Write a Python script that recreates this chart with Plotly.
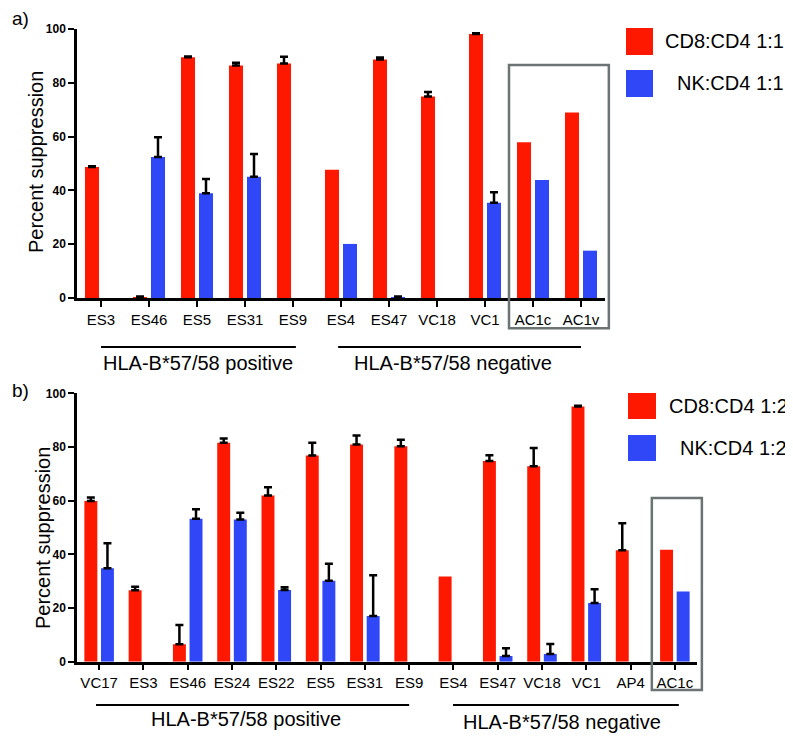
import numpy as np
import plotly.graph_objects as go

# ---------------- data ----------------
cats_a = ["ES3", "ES46", "ES5", "ES31", "ES9", "ES4", "ES47", "VC18", "VC1", "AC1c", "AC1v"]
cd8_a = [48.7, 0.3, 89.5, 86.4, 87.2, 47.7, 88.7, 74.9, 98.1, 57.9, 69.0]
cd8_a_err = [0.3, 0.3, 0.3, 1.1, 2.5, None, 0.7, 1.7, 0.3, None, None]
nk_a = [None, 52.4, 38.9, 45.1, None, 20.1, 0.3, None, 35.4, 43.9, 17.6]
nk_a_err = [None, 7.4, 5.3, 8.4, None, None, 0.3, None, 3.9, None, None]

cats_b = ["VC17", "ES3", "ES46", "ES24", "ES22", "ES5", "ES31", "ES9", "ES4",
          "ES47", "VC18", "VC1", "AP4", "AC1c"]
cd8_b = [59.9, 26.6, 6.5, 81.6, 61.9, 76.8, 80.9, 80.3, 31.7, 74.8, 72.8, 95.1, 41.5, 41.7]
cd8_b_err = [1.3, 1.3, 7.2, 1.6, 3.1, 4.8, 3.4, 2.4, None, 2.1, 6.8, 0.3, 10.1, None]
nk_b = [34.8, None, 53.3, 53.0, 26.7, 30.2, 17.0, None, None, 2.1, 2.9, 21.9, None, 26.2]
nk_b_err = [9.3, None, 3.5, 2.5, 1.0, 6.3, 15.2, None, None, 2.9, 3.7, 5.1, None, None]

legend_a = ["CD8:CD4 1:1", "NK:CD4 1:1"]
legend_b = ["CD8:CD4 1:2", "NK:CD4 1:2"]
group_labels = ["HLA-B*57/58 positive", "HLA-B*57/58 negative"]
y_title = "Percent suppression"
yticks = [0, 20, 40, 60, 80, 100]

# ---------------- style ----------------
RED = "#ff1800"
BLUE = "#2f47f6"
GRAY = "#6b7473"
FONT = "Liberation Sans, Arial, sans-serif"
OFF = 8                      # page body margin
FW, FH = 793 - OFF, 736 - OFF


def px(p):
    return (p - OFF) / FW


def py(p):
    return (FH - (p - OFF)) / FH


def err(vals):
    arr = np.array([np.nan if v is None else v for v in vals], dtype=float)
    minus = np.where(np.isnan(arr), np.nan, 0.0)
    return dict(type="data", symmetric=False, array=arr, arrayminus=minus,
                color="black", thickness=2.5, width=4)


fig = go.Figure()
fig.add_trace(go.Bar(x=cats_a, y=cd8_a, name=legend_a[0], marker_color=RED,
                     error_y=err(cd8_a_err), xaxis="x", yaxis="y", showlegend=False))
fig.add_trace(go.Bar(x=cats_a, y=nk_a, name=legend_a[1], marker_color=BLUE,
                     error_y=err(nk_a_err), xaxis="x", yaxis="y", showlegend=False))
fig.add_trace(go.Bar(x=cats_b, y=cd8_b, name=legend_b[0], marker_color=RED,
                     error_y=err(cd8_b_err), xaxis="x2", yaxis="y2", showlegend=False))
fig.add_trace(go.Bar(x=cats_b, y=nk_b, name=legend_b[1], marker_color=BLUE,
                     error_y=err(nk_b_err), xaxis="x2", yaxis="y2", showlegend=False))

axis_common = dict(showline=True, linewidth=2.5, linecolor="black", ticks="outside",
                   ticklen=6, tickwidth=2, tickcolor="black", showgrid=False,
                   zeroline=False, fixedrange=True, automargin=False)

xdom_a = [px(77), px(605)]
ydom_a = [py(298), py(29)]
xdom_b = [px(77), px(697)]
ydom_b = [py(661.7), py(393.3)]

ytick_font = dict(family=FONT, size=12, color="black", weight="bold")
xtick_font = dict(family=FONT, size=15, color="black")

fig.update_layout(
    template="none",
    width=FW, height=FH, margin=dict(l=0, r=0, t=0, b=0, autoexpand=False),
    paper_bgcolor="white", plot_bgcolor="white",
    barmode="group", bargap=0.25, bargroupgap=0.22,
    font=dict(family=FONT, color="black"),
    xaxis=dict(domain=xdom_a, anchor="y", type="category", range=[-0.5, len(cats_a) - 0.5],
               tickfont=xtick_font, **axis_common),
    yaxis=dict(domain=ydom_a, anchor="x", range=[0, 100], tickvals=yticks,
               tickfont=ytick_font, **axis_common),
    xaxis2=dict(domain=xdom_b, anchor="y2", type="category", range=[-0.5, len(cats_b) - 0.5],
                tickfont=xtick_font, **axis_common),
    yaxis2=dict(domain=ydom_b, anchor="x2", range=[0, 100], tickvals=yticks,
                tickfont=ytick_font, **axis_common),
)


def cx(idx, n):
    # category index -> x-domain fraction
    return (idx + 0.5) / n


shapes = []
annotations = []
na, nb = len(cats_a), len(cats_b)

# ---- y-axis titles ----
for xc, yc in [(36, 162), (43, 538)]:
    annotations.append(dict(xref="paper", yref="paper", x=px(xc), y=py(yc), text=y_title,
                            textangle=-90, showarrow=False, xanchor="center",
                            yanchor="middle",
                            font=dict(family=FONT, size=20, color="black")))

# ---- gray boxes around controls ----
shapes.append(dict(type="rect", xref="x domain", yref="y domain",
                   x0=cx(8.5, na), x1=cx(10.58, na), y0=-0.112, y1=0.866,
                   line=dict(color=GRAY, width=2.5), fillcolor="rgba(0,0,0,0)"))
shapes.append(dict(type="rect", xref="x2 domain", yref="y2 domain",
                   x0=cx(12.48, nb), x1=cx(13.61, nb), y0=-0.105, y1=0.61,
                   line=dict(color=GRAY, width=2.5), fillcolor="rgba(0,0,0,0)"))

# ---- group lines and labels ----
groups_a = [(0.0, 4.06, 2.03), (4.94, 10.0, 7.33)]
for (g0, g1, gc), lab in zip(groups_a, group_labels):
    shapes.append(dict(type="line", xref="x domain", yref="y domain",
                       x0=cx(g0, na), x1=cx(g1, na), y0=-0.182, y1=-0.182,
                       line=dict(color="black", width=2)))
    annotations.append(dict(xref="x domain", yref="y domain", x=cx(gc, na), y=-0.242,
                            text=lab, showarrow=False, xanchor="center", yanchor="middle",
                            font=dict(family=FONT, size=20, color="black")))

groups_b = [(-0.07, 7.0, 3.32, -0.213), (7.99, 13.09, 10.45, -0.225)]
for (g0, g1, gc, gy), lab in zip(groups_b, group_labels):
    shapes.append(dict(type="line", xref="x2 domain", yref="y2 domain",
                       x0=cx(g0, nb), x1=cx(g1, nb), y0=-0.161, y1=-0.161,
                       line=dict(color="black", width=2)))
    annotations.append(dict(xref="x2 domain", yref="y2 domain", x=cx(gc, nb), y=gy,
                            text=lab, showarrow=False, xanchor="center", yanchor="middle",
                            font=dict(family=FONT, size=20, color="black")))

# ---- legends (squares + text) ----
leg_specs = [
    (legend_a, 626, 653, [(28, 55), (70, 97)], [786, 786], [41, 83]),
    (legend_b, 628, 656, [(393, 419), (435, 461)], [790, 789], [406, 448]),
]
for labels, x0, x1, ys, xr, yc in leg_specs:
    for (y0, y1), lab, col, xe, ycc in zip(ys, labels, [RED, BLUE], xr, yc):
        shapes.append(dict(type="rect", xref="paper", yref="paper",
                           x0=px(x0), x1=px(x1), y0=py(y1), y1=py(y0),
                           line=dict(width=0), fillcolor=col))
        annotations.append(dict(xref="paper", yref="paper", x=px(xe), y=py(ycc),
                                text=lab, showarrow=False, xanchor="right", yanchor="middle",
                                font=dict(family=FONT, size=20, color="black")))

# ---- panel labels ----
for lab, yc in [("a)", 19), ("b)", 390)]:
    annotations.append(dict(xref="paper", yref="paper", x=px(10), y=py(yc), text=lab,
                            showarrow=False, xanchor="left", yanchor="middle",
                            font=dict(family=FONT, size=19, color="black")))

fig.update_layout(shapes=shapes, annotations=annotations)
fig.write_html("out.html")
